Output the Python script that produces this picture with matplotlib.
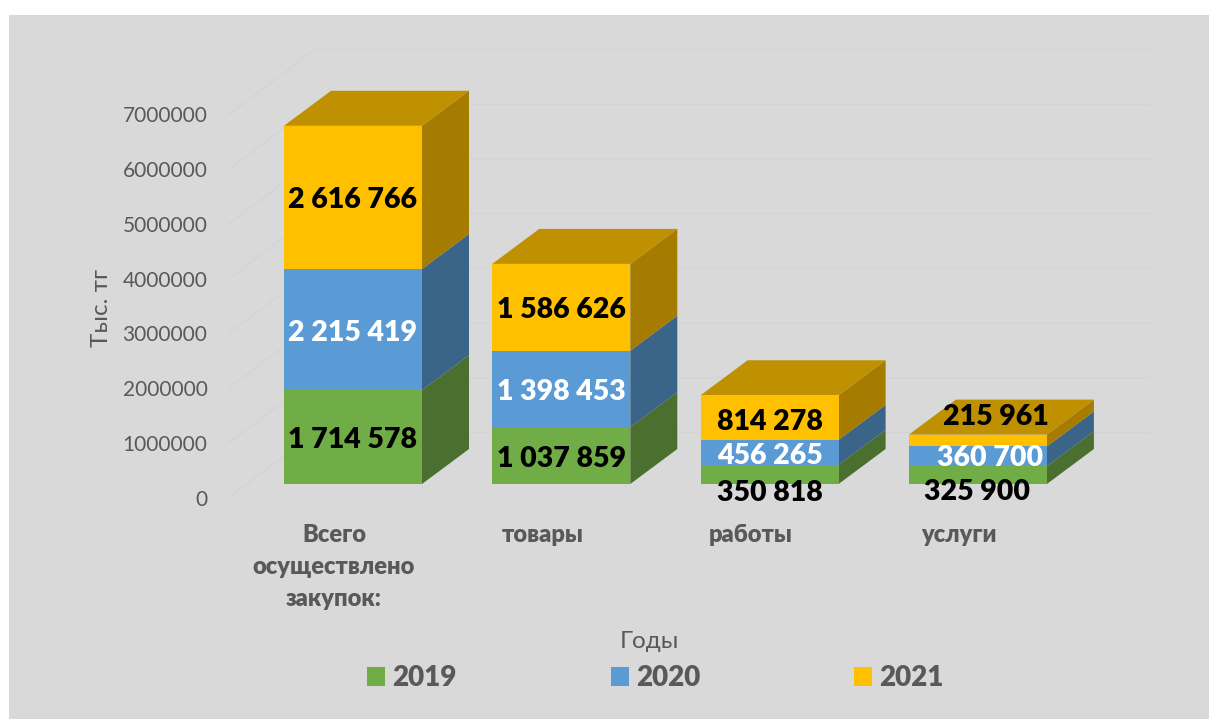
import matplotlib
matplotlib.use('Agg')
import numpy as np
import matplotlib.pyplot as plt
from matplotlib.patches import Patch, Polygon, Rectangle

categories = ['Всего\nосуществлено\nзакупок:', 'товары', 'работы', 'услуги']
years = ['2019', '2020', '2021']
values_2019 = [1714578, 1037859, 350818, 325900]
values_2020 = [2215419, 1398453, 456265, 360700]
values_2021 = [2616766, 1586626, 814278, 215961]
y_ticks = [0, 1000000, 2000000, 3000000, 4000000, 5000000, 6000000, 7000000]

front_colors = ['#70AD47', '#5B9BD5', '#FFC000']
side_colors = ['#4B6F2E', '#3A6488', '#A67C00']
top_color = '#BF9000'
label_colors = ['black', 'white', 'black']
panel_color = '#D9D9D9'
text_color = '#595959'
grid_color = '#D4D4D4'

# manually moved data labels, pixels from the middle of the segment (x, up)
label_shift = {(2, 0): (0, -19), (2, 1): (0, -4), (2, 2): (0, -4),
               (3, 0): (-1, -17), (3, 1): (12, -2), (3, 2): (18, 24)}

plt.rcParams['font.family'] = ['Lato', 'DejaVu Sans']
plt.rcParams['ytick.alignment'] = 'center_baseline'

W, H = 1209, 719
AX_L, AX_R, AX_T, AX_B = 229, 1150, 114.5, 497.5
CAT_X0, CAT_STEP = 334, 208.3

fig = plt.figure(figsize=(W / 100, H / 100), dpi=100, facecolor='white')
fig.add_artist(Rectangle((9 / W, 0), 1 - 9 / W, 1 - 15 / H, transform=fig.transFigure,
                         facecolor=panel_color, edgecolor='none', zorder=-1))
ax = fig.add_axes([AX_L / W, 1 - AX_B / H, (AX_R - AX_L) / W, (AX_B - AX_T) / H])
ax.patch.set_visible(False)
ax.set_xlim((AX_L - CAT_X0) / CAT_STEP, (AX_R - CAT_X0) / CAT_STEP)
ax.set_ylim(0, 7000000)

# pixel sizes in data units
px_x = 1 / CAT_STEP
px_y = 7000000 / (AX_B - AX_T)

# back wall grid lines
for t in y_ticks:
    ax.plot([ax.get_xlim()[0], ax.get_xlim()[0] + 86 * px_x, ax.get_xlim()[1]],
            [t, t + 65 * px_y, t + 65 * px_y], color=grid_color, lw=1, clip_on=False, zorder=1)

# bars
x = np.arange(len(categories)) + 19 * px_x
bar_w = 138 * px_x
base = 13.5 * px_y
dx = 47 * px_x
dy = 35 * px_y
series = np.array([values_2019, values_2020, values_2021])

for i, xc in enumerate(x):
    r = xc + bar_w / 2
    l = xc - bar_w / 2
    bottom = base
    for s in range(len(years)):
        v = series[s, i]
        side = [(r, bottom), (r + dx, bottom + dy), (r + dx, bottom + v + dy), (r, bottom + v)]
        ax.add_patch(Polygon(side, closed=True, facecolor=side_colors[s], edgecolor='none',
                             clip_on=False, zorder=2))
        bottom += v
    top = [(l, bottom), (l + dx, bottom + dy), (r + dx, bottom + dy), (r, bottom)]
    ax.add_patch(Polygon(top, closed=True, facecolor=top_color, edgecolor='none',
                         clip_on=False, zorder=2))

bottom = np.full(len(categories), base)
for s, year in enumerate(years):
    ax.bar(x, series[s], bar_w, bottom=bottom, color=front_colors[s], clip_on=False, zorder=3)
    for i in range(len(categories)):
        shift = label_shift.get((i, s), (0, -3))
        txt = f'{series[s, i]:,}'.replace(',', ' ')
        ax.annotate(txt, (x[i], bottom[i] + series[s, i] / 2), xytext=shift,
                    textcoords='offset pixels', ha='center', va='center', fontsize=20.5,
                    fontweight='heavy', color=label_colors[s], annotation_clip=False, zorder=5)
    bottom = bottom + series[s]

ax.set_yticks(y_ticks)
ax.set_yticklabels([str(t) for t in y_ticks])
ax.set_xticks(np.arange(len(categories)))
ax.set_xticklabels(categories, fontweight='heavy', fontsize=17, linespacing=1.55)
ax.tick_params(axis='y', length=0, pad=15.5, labelsize=15, labelcolor=text_color)
ax.tick_params(axis='x', length=0, pad=19, labelcolor=text_color)
for spine in ax.spines.values():
    spine.set_visible(False)

ax.set_ylabel('Тыс. тг', fontsize=17.5, color=text_color)
ax.yaxis.set_label_coords((112 - AX_L) / (AX_R - AX_L), (AX_B - 308) / (AX_B - AX_T))
ax.set_xlabel('Годы', fontsize=17.5, color=text_color, va='center')
ax.xaxis.set_label_coords((649 - AX_L) / (AX_R - AX_L), (AX_B - 642) / (AX_B - AX_T))

handles = [Patch(facecolor=c, edgecolor='none') for c in front_colors]
leg = ax.legend(handles, years, loc='center', ncol=3, frameon=False,
                bbox_to_anchor=(655.5 / W, 1 - 678 / H), bbox_transform=fig.transFigure,
                prop={'size': 20, 'weight': 'heavy'}, labelcolor=text_color,
                handlelength=0.65, handleheight=0.65, handletextpad=0.25, columnspacing=5.55,
                borderpad=0, borderaxespad=0)

fig.savefig('out.png', dpi=100, facecolor='white')
